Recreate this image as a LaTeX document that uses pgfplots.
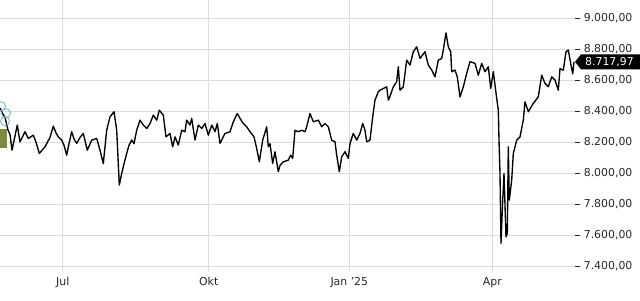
\documentclass[border=0pt]{standalone}
\usepackage{fontspec}
\setmainfont{DejaVu Sans}
\usepackage{pgfplots}
\pgfplotsset{compat=1.18}
\definecolor{gridc}{HTML}{DCDCDC}
\definecolor{oliv}{HTML}{7A8B3C}
\definecolor{teal2}{HTML}{6AB4C4}
\begin{document}
\fontsize{10.9}{13}\selectfont
\begin{tikzpicture}[x=1pt,y=1pt]
\useasboundingbox (0,0) rectangle (640,300);
\begin{axis}[at={(0,18)}, anchor=south west, width=575pt, height=282pt, scale only axis,
  xmin=0, xmax=575, ymin=7361.3, ymax=9180.6,
  clip=false,
  axis line style={draw=none},
  xtick={62.7,208.7,349.3,492.3}, xticklabels={Jul,Okt,Jan '25,Apr},
  ytick={7400,7600,7800,8000,8200,8400,8600,8800,9000},
  yticklabels={{7.400,00},{7.600,00},{7.800,00},{8.000,00},{8.200,00},{8.400,00},{8.600,00},{8.800,00},{9.000,00}},
  xmajorgrids, ymajorgrids, grid style={color=gridc, line width=0.8pt},
  tick align=outside, major tick length=5pt,
  major x tick style={draw=none},
  major y tick style={black!85, line width=0.8pt},
  yticklabel pos=right,
  xticklabel style={anchor=base, yshift=-8.7pt, text=black!85},
  yticklabel style={text=black!85},
  /pgf/number format/assume math mode=true,
]
\addplot[black, line width=1.35pt, line join=round] coordinates {
(0,8420) (3,8380) (5,8361) (8,8277) (10,8250) (12,8148) (15,8240) (17.3,8310) (20,8202) (25,8267)
(28.3,8224) (33.3,8245) (36,8200) (39.3,8127) (45,8170) (50,8230) (53.3,8303) (56,8260) (58.3,8234) (61.7,8213)
(64,8180) (66.7,8116) (69,8190) (71.7,8267) (74,8220) (76.7,8192) (80,8230) (83.3,8256) (87.3,8148) (91.7,8213)
(96.7,8224) (100,8148) (103.3,8062) (106.7,8277) (110,8363) (114,8396) (116.7,8277) (119.3,7923) (121.7,7998) (124,8060)
(126.7,8127) (129,8180) (131.7,8213) (134,8190) (136.7,8277) (140,8342) (143.3,8310) (146.7,8288) (150,8320) (153.3,8374)
(156.7,8342) (159.3,8406) (163.3,8374) (166,8234) (170,8256) (172.7,8170) (175,8234) (178.3,8181) (181.7,8277) (185,8267)
(186.7,8342) (190,8310) (191.7,8353) (195,8213) (198.3,8310) (201.7,8288) (205,8320) (208.3,8245) (211.7,8310) (215,8267)
(217.3,8320) (220,8192) (225,8256) (230,8267) (233.3,8331) (237.3,8385) (240,8353) (243.3,8320) (246.7,8299) (250,8267)
(254,8234) (256.7,8159) (259.3,8073) (262.7,8213) (266.7,8299) (268.3,8170) (270,8190) (272.7,8062) (275,8138) (278.3,8009)
(280,8050) (283.3,8073) (288.3,8084) (290.7,8116) (292.7,8095) (295,8277) (298.3,8267) (301.7,8277) (305,8267) (306.7,8299)
(310,8385) (313.3,8331) (318.3,8342) (321.7,8299) (325,8320) (328.3,8299) (331.7,8213) (335,8202) (336.7,8116) (339.3,8009)
(341.7,8105) (345,8138) (348.3,8095) (350,8192) (353.3,8256) (356.7,8213) (360,8256) (362.7,8320) (365,8277) (366.7,8202)
(370,8213) (372.7,8363) (375,8471) (378.3,8525) (380,8535) (383.3,8546) (386.7,8557) (388.3,8471) (389.3,8482) (393.3,8557)
(396.7,8589) (398.3,8686) (400,8535) (403.3,8557) (406.7,8729) (410,8697) (413.3,8783) (416.7,8815) (420,8740) (425,8783)
(428.3,8697) (431.7,8665) (435,8621) (438.3,8729) (441.7,8740) (443.3,8794) (446,8905) (448.3,8815) (450.7,8783) (451.7,8654)
(455,8665) (457.3,8621) (460,8492) (463.3,8557) (466.7,8643) (470,8719) (475,8708) (478.3,8632) (481.7,8708) (485,8654)
(488.3,8686) (490.7,8546) (493.3,8654) (496.7,8482) (498.3,8406) (499,8213) (500,7998) (501,7546) (502.7,7826) (504,7998)
(506,7589) (507.3,7611) (508.3,8170) (509.3,7826) (511.7,7955) (513.3,8127) (516.7,8213) (520,8234) (523.3,8342) (525,8460)
(528.3,8396) (533.3,8450) (538.3,8492) (541.7,8632) (545,8579) (548.3,8557) (551.7,8621) (555,8600) (558.3,8535) (560,8675)
(563.3,8664) (566,8783) (568.3,8794) (570.7,8708) (572.7,8640) (574,8718)
};
% event icon at the left edge
\fill[oliv] (axis cs:0,8284) rectangle (axis cs:7,8161);
\draw[teal2, line width=0.8pt] (axis cs:1,8432) circle[radius=4.5pt];
\draw[teal2, line width=0.8pt] (axis cs:6,8387) circle[radius=4.5pt];
\draw[teal2, line width=0.8pt] (axis cs:5,8335) circle[radius=4.5pt];
% x tick marks below the labels
\draw[black!85, line width=0.8pt] (axis cs:62.7,7361.3) ++(0,-13pt) -- ++(0,-5pt);
\draw[black!85, line width=0.8pt] (axis cs:208.7,7361.3) ++(0,-13pt) -- ++(0,-5pt);
\draw[black!85, line width=0.8pt] (axis cs:349.3,7361.3) ++(0,-13pt) -- ++(0,-5pt);
\draw[black!85, line width=0.8pt] (axis cs:492.3,7361.3) ++(0,-13pt) -- ++(0,-5pt);
% last value marker
\coordinate (L) at (axis cs:575,8717.97);
\fill[black] (L) -- ([xshift=6pt,yshift=7.5pt]L) -- ([xshift=70pt,yshift=7.5pt]L) -- ([xshift=70pt,yshift=-7.5pt]L) -- ([xshift=6pt,yshift=-7.5pt]L) -- cycle;
\node[white, anchor=west, inner sep=0pt] at ([xshift=10pt]L) {8.717,97};
\end{axis}
\end{tikzpicture}
\end{document}
